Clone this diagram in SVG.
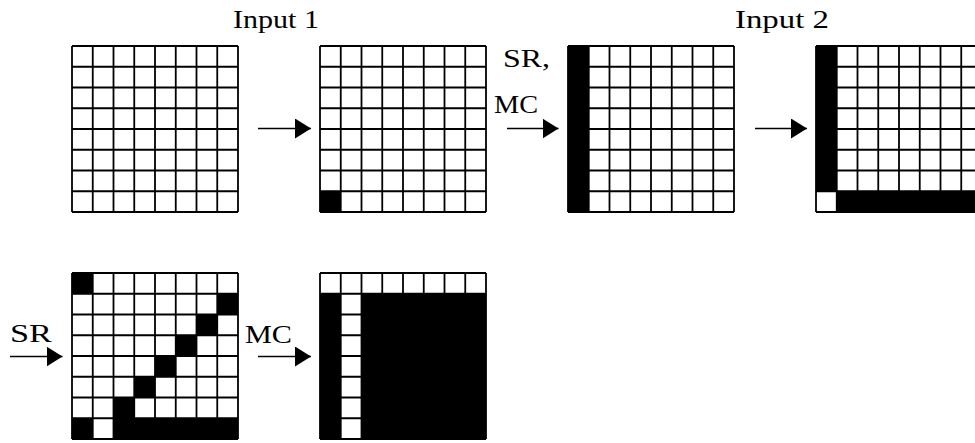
<svg xmlns="http://www.w3.org/2000/svg" width="975" height="443" viewBox="0 0 975 443">
<style>
.bg{fill:#fff}
.blk{fill:#000}
.gl{fill:none;stroke:#000;stroke-width:1.8}
.lbl{font-family:"Liberation Serif","DejaVu Serif",serif;font-size:26px;fill:#000}
.conn{stroke:#000;stroke-width:1.6;fill:none}
</style>
<defs>
<path id="grid" class="gl" d="M0 0V166M20.75 0V166M41.5 0V166M62.25 0V166M83 0V166M103.75 0V166M124.5 0V166M145.25 0V166M166 0V166M0 0H166M0 20.75H166M0 41.5H166M0 62.25H166M0 83H166M0 103.75H166M0 124.5H166M0 145.25H166M0 166H166"/>
<marker id="ah" markerUnits="userSpaceOnUse" markerWidth="17" markerHeight="21" refX="16" refY="10" orient="auto">
<path d="M0 0L16 10L0 20Z" fill="#000"/>
</marker>
</defs>
<rect width="975" height="443" fill="#fff"/>

<g id="labels">
<text class="lbl" x="233" y="28" textLength="86" lengthAdjust="spacingAndGlyphs">Input 1</text>
<text class="lbl" x="735" y="28" textLength="94" lengthAdjust="spacingAndGlyphs">Input 2</text>
</g>

<g id="grid1">
<rect class="bg" x="72" y="46" width="166" height="166"/>
<use href="#grid" x="72" y="46"/>
</g>

<g id="grid2">
<rect class="bg" x="320" y="46" width="166" height="166"/>
<rect class="blk" x="320" y="191.25" width="20.75" height="20.75"/>
<use href="#grid" x="320" y="46"/>
</g>

<g id="grid3">
<rect class="bg" x="568" y="46" width="166" height="166"/>
<rect class="blk" x="568" y="46" width="20.75" height="166"/>
<use href="#grid" x="568" y="46"/>
</g>

<g id="grid4">
<rect class="bg" x="816" y="46" width="166" height="166"/>
<rect class="blk" x="816" y="46" width="20.75" height="145.25"/>
<rect class="blk" x="836.75" y="191.25" width="145.25" height="20.75"/>
<use href="#grid" x="816" y="46"/>
</g>

<g id="grid5">
<rect class="bg" x="72" y="273" width="166" height="166"/>
<rect class="blk" x="72" y="273" width="20.75" height="20.75"/>
<rect class="blk" x="217.25" y="293.75" width="20.75" height="20.75"/>
<rect class="blk" x="196.5" y="314.5" width="20.75" height="20.75"/>
<rect class="blk" x="175.75" y="335.25" width="20.75" height="20.75"/>
<rect class="blk" x="155" y="356" width="20.75" height="20.75"/>
<rect class="blk" x="134.25" y="376.75" width="20.75" height="20.75"/>
<rect class="blk" x="113.5" y="397.5" width="20.75" height="20.75"/>
<rect class="blk" x="72" y="418.25" width="20.75" height="20.75"/>
<rect class="blk" x="113.5" y="418.25" width="124.5" height="20.75"/>
<use href="#grid" x="72" y="273"/>
</g>

<g id="grid6">
<rect class="bg" x="320" y="273" width="166" height="166"/>
<rect class="blk" x="320" y="293.75" width="20.75" height="145.25"/>
<rect class="blk" x="361.5" y="293.75" width="124.5" height="145.25"/>
<use href="#grid" x="320" y="273"/>
</g>

<g id="connectors">
<line class="conn" x1="258" y1="128.5" x2="311" y2="128.5" marker-end="url(#ah)"/>
<line class="conn" x1="507" y1="128.5" x2="558.5" y2="128.5" marker-end="url(#ah)"/>
<line class="conn" x1="755" y1="128.5" x2="807" y2="128.5" marker-end="url(#ah)"/>
<line class="conn" x1="10" y1="356.5" x2="62.5" y2="356.5" marker-end="url(#ah)"/>
<line class="conn" x1="258" y1="356.5" x2="311" y2="356.5" marker-end="url(#ah)"/>
<text class="lbl" x="503" y="67" textLength="47" lengthAdjust="spacingAndGlyphs">SR,</text>
<text class="lbl" x="494" y="113" textLength="44" lengthAdjust="spacingAndGlyphs">MC</text>
<text class="lbl" x="10" y="342" textLength="42" lengthAdjust="spacingAndGlyphs">SR</text>
<text class="lbl" x="245" y="343" textLength="47" lengthAdjust="spacingAndGlyphs">MC</text>
</g>
</svg>
